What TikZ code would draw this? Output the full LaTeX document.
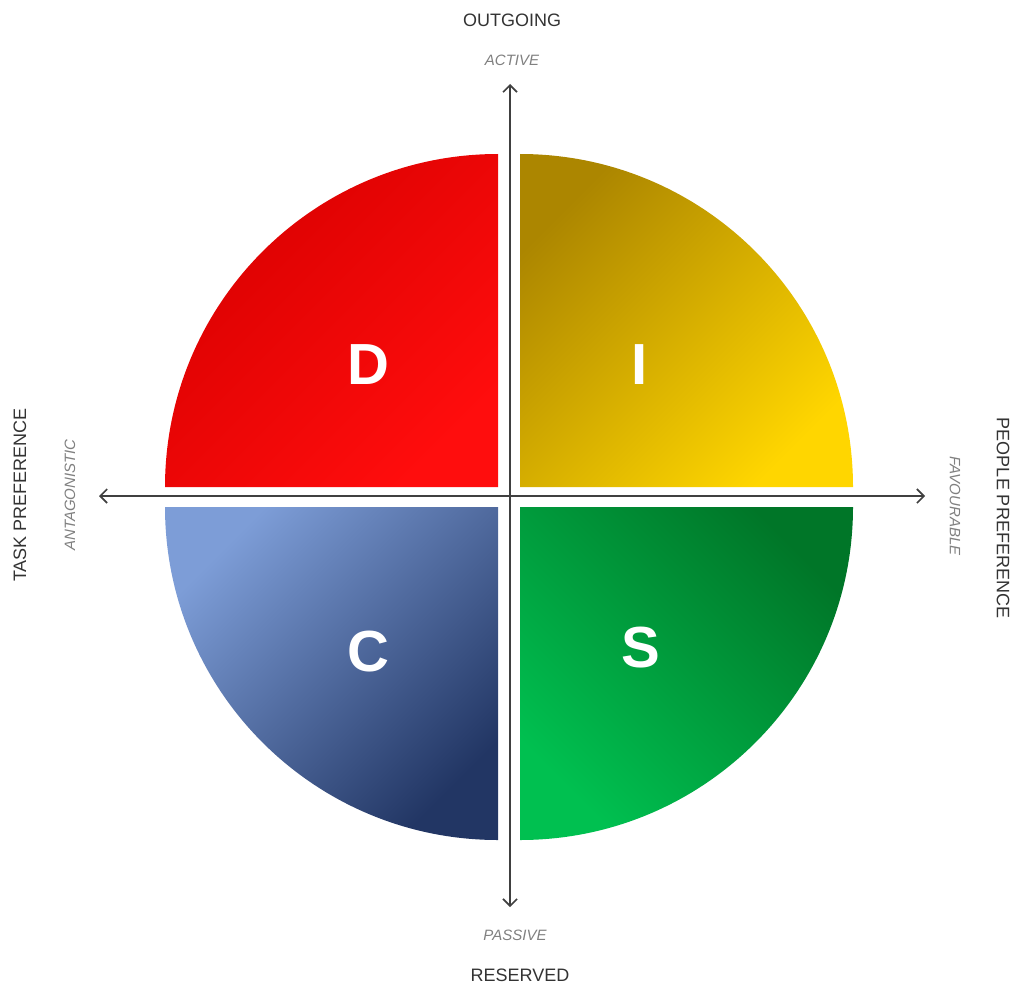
\documentclass[tikz,border=0pt]{standalone}
\usepackage{fontspec}
\setmainfont{Liberation Sans}
\usetikzlibrary{arrows.meta}
\begin{document}
\begin{tikzpicture}[x=1pt,y=-1pt,
  letter/.style={text=white,font=\bfseries\fontsize{58}{58}\selectfont},
  axislab/.style={text=black!80,font=\fontsize{18}{18}\selectfont},
  sublab/.style={text=black!50,font=\itshape\fontsize{15}{15}\selectfont},
  axisline/.style={draw=black!75,line width=1.6pt,{Straight Barb[length=7pt,width=14pt]}-{Straight Barb[length=7pt,width=14pt]}}]
\useasboundingbox (0,0) rectangle (1024,1003);
\shade[top color=red!85!black,bottom color=red!95!white,shading angle=45]
  (498,487) -- (165,487) arc[start angle=180,end angle=270,radius=333] -- cycle;
\shade[top color={rgb,255:red,172;green,134;blue,0},bottom color={rgb,255:red,255;green,214;blue,0},shading angle=45]
  (520,487) -- (520,154) arc[start angle=270,end angle=360,radius=333] -- cycle;
\shade[top color={rgb,255:red,125;green,157;blue,215},bottom color={rgb,255:red,34;green,54;blue,100},shading angle=45]
  (498,507) -- (165,507) arc[start angle=180,end angle=90,radius=333] -- cycle;
\shade[top color={rgb,255:red,0;green,118;blue,40},bottom color={rgb,255:red,0;green,192;blue,80},shading angle=-45]
  (520,507) -- (853,507) arc[start angle=0,end angle=90,radius=333] -- cycle;
\node[letter] (D) at (368,365) {D};
\node[letter] (I) at (640,365) {I};
\node[letter] (C) at (368,652) {C};
\node[letter] (S) at (641,648) {S};
\coordinate (top) at (510,84);
\coordinate (bot) at (510,907);
\coordinate (lft) at (99,496);
\coordinate (rgt) at (925,496);
\draw[axisline] (top) -- (bot);
\draw[axisline] (lft) -- (rgt);
\node[axislab] (out) at (512,20) {OUTGOING};
\node[sublab] (act) at (512,60) {ACTIVE};
\node[sublab] (pas) at (515,935) {PASSIVE};
\node[axislab] (res) at (520,975) {RESERVED};
\node[axislab,rotate=90] (task) at (20,495) {TASK PREFERENCE};
\node[sublab,rotate=90] (ant) at (70,495) {ANTAGONISTIC};
\node[axislab,rotate=-90] (peo) at (1003,518) {PEOPLE PREFERENCE};
\node[sublab,rotate=-90] (fav) at (955,506) {FAVOURABLE};
\end{tikzpicture}
\end{document}
